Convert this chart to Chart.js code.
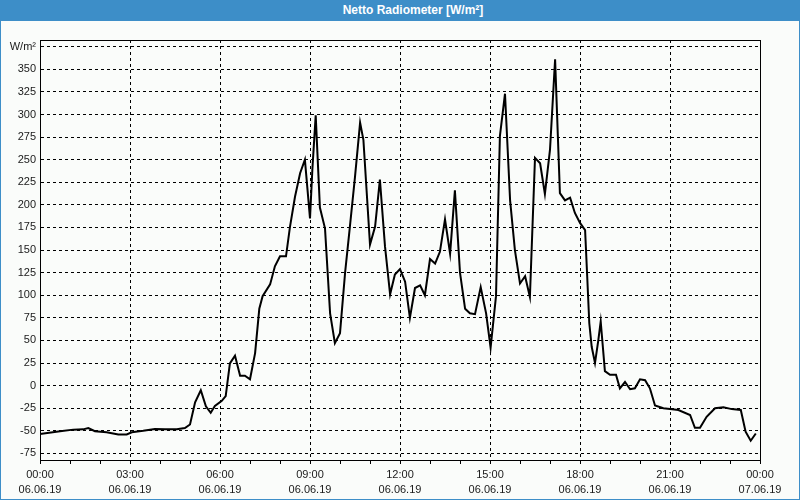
<!DOCTYPE html>
<html>
<head>
<meta charset="utf-8">
<script src="https://cdn.jsdelivr.net/npm/chart.js@4/dist/chart.umd.min.js"></script>
<style>
  html, body { margin: 0; padding: 0; background: #fafcfa; }
  #wrap { position: relative; width: 800px; height: 500px; }
  #title {
    position: absolute; left: 0; top: 0; width: 800px; height: 21px;
    background: #3d8ec8; color: #fff;
    font: bold 12px "Liberation Sans", Arial, sans-serif;
    line-height: 21px; text-align: center; text-indent: 26px;
  }
  #frame {
    position: absolute; left: 0; top: 0; width: 798px; height: 498px;
    border: 1px solid #3d8ec8; pointer-events: none;
  }
  canvas { position: absolute; left: 0; top: 0; }
</style>
</head>
<body>
<div id="wrap">
  <canvas id="c" width="800" height="500"></canvas>
  <div id="title">Netto Radiometer [W/m²]</div>
  <div id="frame"></div>
</div>
<script>
// Time of day in hours (06.06.19 00:00 = 0, 07.06.19 00:00 = 24)
const timeHours = [
  0.00, 0.67, 1.11, 1.44, 1.61, 1.83, 2.22, 2.61, 2.89, 3.06,
  3.44, 3.83, 4.17, 4.56, 4.83, 5.00, 5.17, 5.36, 5.53, 5.69,
  5.83, 6.06, 6.19, 6.33, 6.50, 6.67, 6.83, 7.00, 7.17, 7.31,
  7.42, 7.67, 7.83, 8.00, 8.20, 8.33, 8.50, 8.67, 8.83, 9.00,
  9.08, 9.19, 9.33, 9.50, 9.67, 9.83, 10.00, 10.17, 10.33, 10.50,
  10.67, 10.78, 11.00, 11.17, 11.33, 11.50, 11.67, 11.83, 12.00, 12.17,
  12.33, 12.50, 12.67, 12.83, 13.00, 13.17, 13.33, 13.50, 13.67, 13.83,
  14.00, 14.17, 14.33, 14.50, 14.69, 14.87, 15.02, 15.20, 15.33, 15.50,
  15.67, 15.83, 16.00, 16.17, 16.33, 16.50, 16.67, 16.83, 17.00, 17.17,
  17.33, 17.50, 17.67, 17.83, 18.00, 18.17, 18.24, 18.31, 18.39, 18.50,
  18.61, 18.69, 18.83, 19.00, 19.20, 19.33, 19.50, 19.67, 19.83, 20.00,
  20.17, 20.33, 20.50, 20.78, 21.00, 21.28, 21.67, 21.83, 22.00, 22.22,
  22.50, 22.78, 23.06, 23.36, 23.52, 23.69, 23.86
];
// Netto Radiometer values in W/m²
const radiation = [
  -53.5, -50.5, -48.7, -48.4, -47, -50.5, -51.6, -54, -54, -51.6,
  -50, -48, -48.4, -48.4, -47, -43, -18.5, -5.2, -23, -30,
  -22.6, -16.8, -11.5, 24.5, 33, 11, 11, 7, 36, 85,
  99, 112, 132, 143, 143, 175, 209, 235, 250, 185,
  240, 299, 197, 174, 80, 47, 58, 125, 176, 231,
  291, 272, 156, 176, 228, 154, 101, 123, 129, 115,
  75, 108, 111, 100, 140, 135, 148, 184, 146, 216,
  125, 85, 80, 79, 109, 80, 42, 99, 276, 323,
  205, 150, 113, 121, 98, 252, 246, 212, 261, 361,
  213, 205, 208, 191, 180, 172, 121, 69, 43, 25,
  50, 71, 16, 12, 12, -3, 4, -4, -3, 7,
  6, -3, -22, -25, -26, -27, -32.5, -46.6, -46.6, -34.5,
  -25, -24, -26, -27, -51, -61, -53
];
// Axis ticks
const xTickHours = [0,1,2,3,4,5,6,7,8,9,10,11,12,13,14,15,16,17,18,19,20,21,22,23,24];
const xTimeLabels = ['00:00','03:00','06:00','09:00','12:00','15:00','18:00','21:00','00:00'];
const xDateLabels = ['06.06.19','06.06.19','06.06.19','06.06.19','06.06.19','06.06.19','06.06.19','06.06.19','07.06.19'];
const yTicks = [-75,-50,-25,0,25,50,75,100,125,150,175,200,225,250,275,300,325,350,375];
const yUnitLabel = 'W/m²';

const points = timeHours.map((h, i) => ({ x: h, y: radiation[i] }));

const framePlugin = {
  id: 'frame',
  afterDraw(chart) {
    const { ctx, chartArea: a } = chart;
    ctx.save();
    ctx.strokeStyle = '#000';
    ctx.lineWidth = 1;
    ctx.strokeRect(Math.round(a.left) + 0.5, Math.round(a.top) + 0.5,
                   Math.round(a.right - a.left), Math.round(a.bottom - a.top));
    ctx.restore();
  }
};

const font = { family: '"Liberation Sans", Arial, sans-serif', size: 11 };

new Chart(document.getElementById('c'), {
  type: 'line',
  data: {
    datasets: [{
      data: points,
      borderColor: '#000',
      borderWidth: 2,
      pointRadius: 0,
      tension: 0,
      fill: false
    }]
  },
  options: {
    responsive: false,
    animation: false,
    events: [],
    layout: { padding: { top: 40, right: 40, left: 0, bottom: 0 } },
    plugins: { legend: { display: false }, tooltip: { enabled: false }, title: { display: false } },
    scales: {
      x: {
        type: 'linear',
        min: 0, max: 24,
        afterBuildTicks(scale) { scale.ticks = xTickHours.map(v => ({ value: v })); },
        afterFit(scale) { scale.height = 40; },
        ticks: {
          autoSkip: false, maxRotation: 0, minRotation: 0,
          color: '#1a1a1a', font: { ...font, lineHeight: 15 / 11 }, padding: 3,
          callback(v) {
            if (v % 3 !== 0) return '';
            const i = v / 3;
            return [xTimeLabels[i], xDateLabels[i]];
          }
        },
        grid: {
          color: ctx => (ctx.tick && ctx.tick.value % 3 === 0) ? '#000' : 'rgba(0,0,0,0)',
          lineWidth: 1,
          tickColor: '#000',
          tickLength: 4,
          tickBorderDash: [],
          drawTicks: true
        },
        border: { display: true, color: '#000', width: 1, dash: [3, 3] }
      },
      y: {
        type: 'linear',
        min: -82.3, max: 382.4,
        afterBuildTicks(scale) { scale.ticks = yTicks.map(v => ({ value: v })); },
        afterFit(scale) { scale.width = 40; },
        ticks: {
          color: '#1a1a1a', font, padding: 4,
          callback(v) { return v === 375 ? yUnitLabel : String(v); }
        },
        grid: { color: '#000', lineWidth: 1, drawTicks: false },
        border: { display: true, color: '#000', width: 1, dash: [3, 3] }
      }
    }
  },
  plugins: [framePlugin]
});
</script>
</body>
</html>
